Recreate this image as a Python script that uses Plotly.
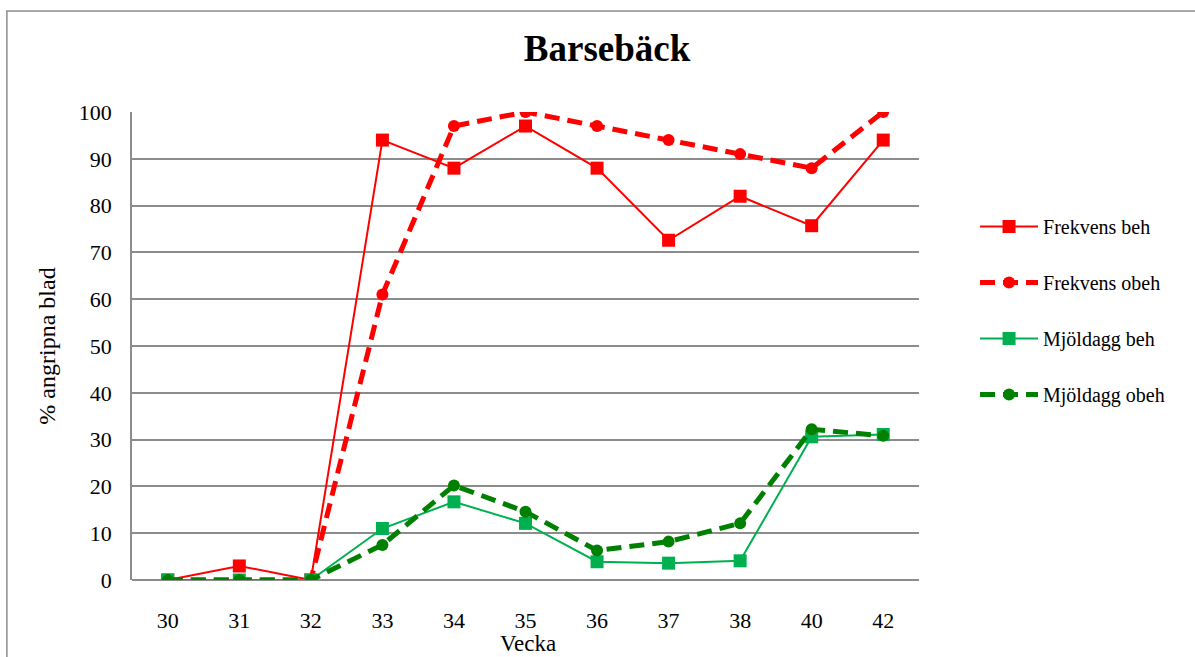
import plotly.graph_objects as go

weeks = ["30", "31", "32", "33", "34", "35", "36", "37", "38", "40", "42"]
frekvens_beh = [0, 3, 0, 94, 88, 97, 88, 72.6, 82, 75.7, 94]
frekvens_obeh = [0, 0, 0, 61, 97, 100, 97, 94, 91, 88, 100]
mjoldagg_beh = [0, 0, 0, 11, 16.7, 12.1, 3.9, 3.6, 4.1, 30.6, 31.1]
mjoldagg_obeh = [0, 0, 0, 7.5, 20.2, 14.6, 6.3, 8.2, 12.1, 32.2, 30.8]
y_ticks = list(range(0, 101, 10))

FONT = "Liberation Serif, Times New Roman, serif"
DASH = "15px,8px"

fig = go.Figure()
fig.add_trace(go.Scatter(
    x=weeks, y=frekvens_beh, name="Frekvens beh", mode="lines+markers",
    line=dict(color="#FF0000", width=2),
    marker=dict(symbol="square", size=13, color="#FF0000"),
    legendgroup="a"))
fig.add_trace(go.Scatter(
    x=weeks, y=frekvens_obeh, name="Frekvens obeh", mode="lines+markers",
    line=dict(color="#FF0000", width=5, dash=DASH),
    marker=dict(symbol="circle", size=12, color="#FF0000"),
    legendgroup="b"))
fig.add_trace(go.Scatter(
    x=weeks, y=mjoldagg_beh, name="Mjöldagg beh", mode="lines+markers",
    line=dict(color="#00B050", width=2),
    marker=dict(symbol="square", size=13, color="#00B050"),
    legendgroup="c"))
fig.add_trace(go.Scatter(
    x=weeks, y=mjoldagg_obeh, name="Mjöldagg obeh", mode="lines+markers",
    line=dict(color="#008000", width=5, dash=DASH),
    marker=dict(symbol="circle", size=12, color="#008000"),
    legendgroup="d"))

fig.update_layout(
    width=1195, height=657,
    margin=dict(l=132, r=276, t=112, b=77),
    paper_bgcolor="white", plot_bgcolor="white",
    font=dict(family=FONT, size=22, color="black"),
    title=dict(text="<b>Barsebäck</b>", x=0.508, xanchor="center",
               y=0.927, yanchor="middle",
               font=dict(family=FONT, size=37, color="black")),
    showlegend=True,
    legend=dict(x=1.0712, xanchor="left", y=0.797, yanchor="top",
                font=dict(family=FONT, size=20, color="black"),
                tracegroupgap=27, itemwidth=58, bgcolor="rgba(0,0,0,0)"),
    xaxis=dict(type="category", range=[-0.5, 10.5], automargin=False,
               showgrid=False, showline=False, zeroline=False,
               ticks="", ticklabelstandoff=25,
               tickfont=dict(family=FONT, size=22)),
    yaxis=dict(range=[0, 100], tickvals=y_ticks, automargin=False,
               showgrid=True, gridcolor="#8C8C8C", gridwidth=1.5,
               showline=True, linecolor="#8C8C8C", linewidth=1.5,
               zeroline=True, zerolinecolor="#8C8C8C", zerolinewidth=1.5,
               ticks="", ticklabelstandoff=14,
               tickfont=dict(family=FONT, size=22),
               title=dict(text="% angripna blad", standoff=16,
                          font=dict(family=FONT, size=24))),
    annotations=[dict(text="Vecka", xref="paper", yref="paper",
                      x=0.503, y=-0.1365, xanchor="center", yanchor="middle",
                      showarrow=False, font=dict(family=FONT, size=23))],
    shapes=[dict(type="rect", xref="paper", yref="paper",
                 x0=-0.159, x1=1.4, y0=-0.3, y1=1.2158,
                 line=dict(color="#8C8C8C", width=1.5),
                 fillcolor="rgba(0,0,0,0)", layer="below")],
)

fig.write_html("out.html", config={"displayModeBar": False},
               post_script="document.body.style.margin='0';")
